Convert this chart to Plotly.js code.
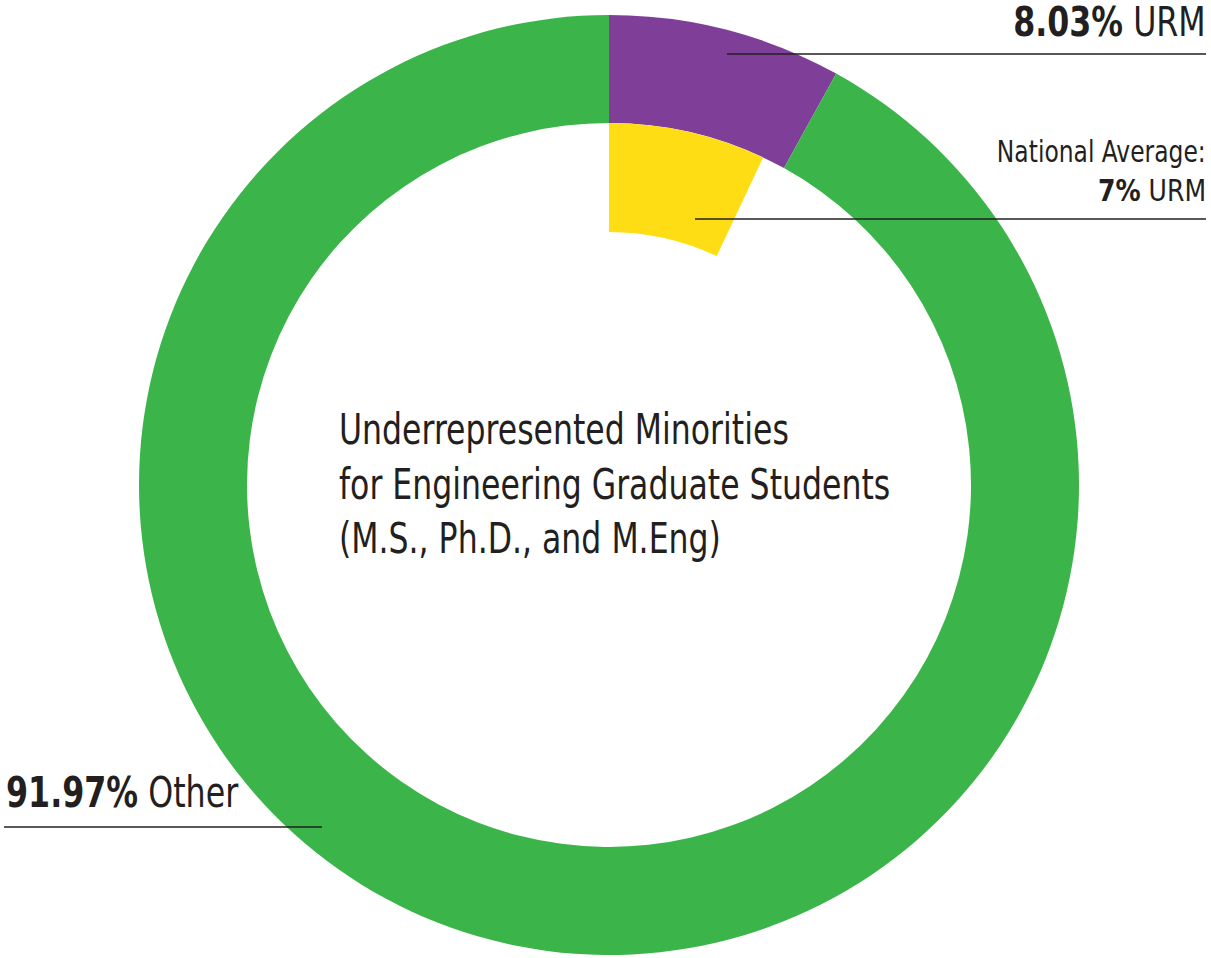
<!DOCTYPE html>
<html>
<head>
<meta charset="utf-8">
<script src="https://cdn.plot.ly/plotly-3.0.1.min.js"></script>
<style>html,body{margin:0;padding:0;background:#fff;}#chart{width:1211px;height:958px;}</style>
</head>
<body>
<div id="chart"></div>
<script>
const categories = ["URM", "Other"];
const values = [8.03, 91.97];
const nationalLabels = ["National Average URM", "Rest"];
const nationalValues = [7, 93];
const colors = ["#7F3F98", "#3BB54A"];
const nationalColors = ["#FFDD15", "rgba(0,0,0,0)"];

const W = 1211, H = 958;
const FONT = "'Liberation Sans Narrow', 'DejaVu Sans Condensed', 'Roboto', sans-serif";
const TXT = "#231F20";
const px = x => x / W;
const py = y => 1 - y / H;

const cx = 609, cy = 485, rOuter = 470, rInner = 362, rYellow = 253;

const traces = [
  {
    type: "pie",
    labels: categories,
    values: values,
    sort: false,
    direction: "clockwise",
    rotation: 0,
    hole: rInner / rOuter,
    marker: {colors: colors, line: {width: 0}},
    textinfo: "none",
    hoverinfo: "label+value",
    showlegend: false,
    domain: {x: [px(cx - rOuter), px(cx + rOuter)], y: [py(cy + rOuter), py(cy - rOuter)]}
  },
  {
    type: "pie",
    labels: nationalLabels,
    values: nationalValues,
    sort: false,
    direction: "clockwise",
    rotation: 0,
    hole: rYellow / rInner,
    marker: {colors: nationalColors, line: {width: 0}},
    textinfo: "none",
    hoverinfo: "skip",
    showlegend: false,
    domain: {x: [px(cx - rInner), px(cx + rInner)], y: [py(cy + rInner), py(cy - rInner)]}
  }
];

const line = (x0, x1, y) => ({type: "line", xref: "paper", yref: "paper", x0: px(x0), x1: px(x1), y0: py(y), y1: py(y), line: {color: "#231F20", width: 1.6}});

// horizontal condensing factor per annotation (to mimic a condensed typeface)
const squeeze = [0.88, 0.84, 0.9, 0.82, 0.835];

const layout = {
  width: W, height: H,
  margin: {l: 0, r: 0, t: 0, b: 0},
  paper_bgcolor: "#fff",
  plot_bgcolor: "#fff",
  showlegend: false,
  font: {family: FONT, color: TXT},
  shapes: [line(727, 1206, 54), line(695, 1206, 219), line(4, 322, 827)],
  annotations: [
    {xref: "paper", yref: "paper", x: px(1208), y: py(22), xanchor: "right", yanchor: "middle", showarrow: false,
     text: "<b>" + values[0].toFixed(2) + "%</b> " + categories[0], font: {size: 40, family: FONT, color: TXT}},
    {xref: "paper", yref: "paper", x: px(1208), y: py(151), xanchor: "right", yanchor: "middle", showarrow: false,
     text: "National Average:", font: {size: 31, family: FONT, color: TXT}},
    {xref: "paper", yref: "paper", x: px(1208), y: py(190), xanchor: "right", yanchor: "middle", showarrow: false,
     text: "<b>" + nationalValues[0] + "%</b> URM", font: {size: 31, family: FONT, color: TXT}},
    {xref: "paper", yref: "paper", x: px(4), y: py(792), xanchor: "left", yanchor: "middle", showarrow: false,
     text: "<b>" + values[1].toFixed(2) + "%</b> " + categories[1], font: {size: 43, family: FONT, color: TXT}},
    {xref: "paper", yref: "paper", x: px(337), y: py(484), xanchor: "left", yanchor: "middle", showarrow: false, align: "left",
     text: "Underrepresented Minorities<br>for Engineering Graduate Students<br>(M.S., Ph.D., and M.Eng)", font: {size: 42, family: FONT, color: TXT}}
  ]
};

function condense(gd) {
  const groups = gd.querySelectorAll("g.annotation");
  groups.forEach((g, i) => {
    const s = squeeze[i];
    const ann = layout.annotations[i];
    if (!s || !ann) return;
    const t = g.querySelector("text.annotation-text");
    if (!t) return;
    const bb = t.getBBox();
    const ax = ann.xanchor === "right" ? bb.x + bb.width : bb.x;
    const prev = t.getAttribute("transform") || "";
    t.setAttribute("transform", prev + " translate(" + ax + ",0) scale(" + s + ",1) translate(" + (-ax) + ",0)");
  });
}

Plotly.newPlot("chart", traces, layout, {displayModeBar: false, staticPlot: true}).then(condense);
</script>
</body>
</html>
